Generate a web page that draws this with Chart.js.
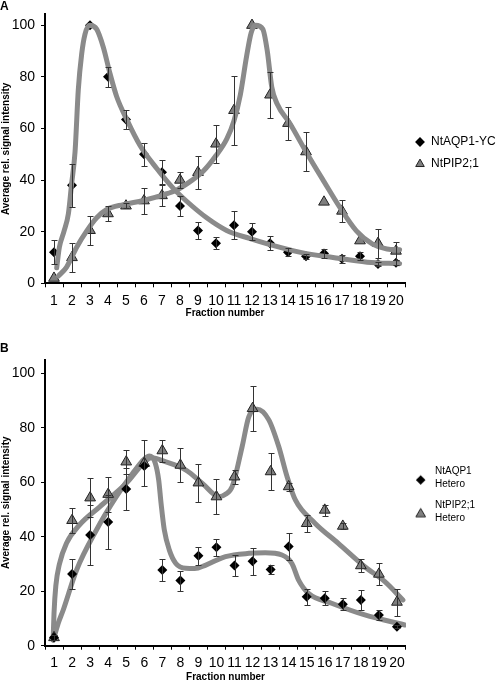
<!DOCTYPE html>
<html>
<head>
<meta charset="utf-8">
<script src="https://cdn.jsdelivr.net/npm/chart.js@4.4.1/dist/chart.umd.min.js"></script>
<style>
html,body{margin:0;padding:0;background:#fff;}
body{width:496px;height:682px;position:relative;overflow:hidden;}
canvas{position:absolute;left:0;}
.panel{position:absolute;left:0;font:bold 12px/12px "Liberation Sans",Arial,sans-serif;color:#000;}
</style>
</head>
<body>
<canvas id="chartA" width="496" height="318" style="top:0px"></canvas>
<canvas id="chartB" width="496" height="352" style="top:330px"></canvas>
<div class="panel" style="top:0px">A</div>
<div class="panel" style="top:342px">B</div>
<script>
// ---------- data ----------
const fractions = [1, 2, 3, 4, 5, 6, 7, 8, 9, 10, 11, 12, 13, 14, 15, 16, 17, 18, 19, 20];
const tickLabels = ['1','2','3','4','5','6','7','8','9','10','11','12','13','14','15','16','17','18','19','20'];
const yTicks = [0, 20, 40, 60, 80, 100];

// Panel A
const aqpA    = [12, 38, 100, 80, 63.5, 50, 43, 30, 20.5, 15.5, 22.5, 20, 15.5, 12, 10.5, 11.5, 9.5, 10.5, 7.5, 8];
const aqpErrA = [4.7, 8.4, 0, 3.8, 3.7, 4.5, 4.7, 4, 3.2, 2.4, 5.4, 3.3, 2.7, 1.5, 1, 1.7, 1.5, 1.6, 0.8, 1];
const pipA    = [2, 10, 20.5, 27, 30, 32, 34, 40, 43, 54, 67, 100, 73, 62, 51, 31.5, 28, 16.5, 15.5, 12.5];
const pipErrA = [0, 5.5, 5.5, 3, 1, 5, 4, 3, 6.3, 7.3, 13.5, 0, 9, 6.5, 7.5, 0, 4.2, 0, 5.6, 3.5];

const curveAqpAx = [1.15, 1.3, 1.55, 1.8, 1.97, 2.17, 2.35, 2.54, 2.72, 2.97, 3.37, 3.74, 4.11, 4.48, 5.04, 5.78, 6.71, 7.63, 8.37, 9.48, 10.59, 11.9, 13.0, 14.7, 16.5, 18.4, 20.2];
const curveAqpAy = [6, 14, 20, 27, 38, 51, 75, 89, 96.5, 100, 98.5, 91.5, 81.3, 72.4, 63.5, 53.4, 44.5, 36.8, 31.8, 25.4, 20.5, 17.3, 15, 12, 10, 8.2, 7.6];
const curvePipAx = [1.24, 1.7, 2.26, 2.82, 3.37, 3.93, 4.85, 5.96, 7.07, 7.82, 8.56, 9.3, 10.0, 10.6, 11.0, 11.35, 11.7, 11.95, 12.2, 12.6, 12.85, 13.1, 13.4, 14.1, 15.0, 16.0, 16.9, 17.8, 18.7, 19.5, 20.2];
const curvePipAy = [2.8, 6.3, 14, 20.3, 25.4, 28.6, 30.5, 32.1, 34.3, 36.2, 39.4, 43.5, 49.5, 56, 63, 73, 88, 97, 100, 98.5, 90, 76, 69.5, 62, 51, 39.4, 29.2, 20.3, 15.2, 13.3, 13];

// Panel B
const aqpB    = [3, 26.3, 40.6, 45.4, 57.5, 66, 27.8, 23.9, 33, 36.1, 29.4, 31, 28, 36.4, 18, 17.4, 15.2, 16.8, 11.3, 7];
const aqpErrB = [1, 5.5, 11, 10, 7.8, 0, 4, 3.7, 3.2, 3.2, 3.8, 5, 1.5, 4.8, 3, 2.6, 2.2, 3.6, 1.8, 0.5];
const pipB    = [3, 46, 54.3, 55.6, 67.5, 67, 71.6, 66.3, 59.8, 54.7, 62, 87.1, 63.9, 58.4, 44.9, 49.8, 43.9, 29.4, 26.3, 16];
const pipErrB = [1, 4.5, 7.1, 6.4, 4.5, 8.5, 4, 6.3, 7, 6.5, 2.5, 8.3, 6.9, 1.5, 3, 2, 1.2, 2.5, 4, 5];

const curveAqpBx = [0.96, 1.23, 1.51, 2.25, 3.35, 4.45, 5.36, 6.0, 6.28, 6.61, 6.8, 6.93, 7.11, 7.39, 7.75, 8.3, 8.8, 9.41, 10.5, 11.8, 12.7, 13.63, 14.18, 14.55, 15.1, 16.38, 18.22, 20.43];
const curveAqpBy = [2.1, 8.2, 13.1, 27.8, 42.5, 54.7, 63.3, 68.5, 69.6, 67, 60.8, 52.3, 42.5, 35.1, 30.2, 28.4, 28.3, 29.6, 32.7, 33.9, 34.1, 33.3, 30.2, 24.1, 19.2, 15.6, 11.3, 7.6];
const curvePipBx = [0.95, 1.0, 1.1, 1.3, 1.69, 2.43, 3.53, 5.0, 6.1, 6.4, 7.2, 8.31, 9.22, 10.14, 10.5, 10.87, 11.42, 11.79, 12.25, 12.9, 13.45, 13.91, 14.37, 15.47, 16.75, 18.22, 19.33, 20.33];
const curvePipBy = [2, 12, 22, 30, 37.6, 44.5, 51, 59.6, 68, 69, 67.5, 64.5, 59.6, 54.7, 55.6, 58.4, 73, 84, 86.8, 82.9, 73.1, 62.1, 53.5, 44.9, 37.6, 29, 23.5, 16.8];

// ---------- helpers ----------
const FONT = "'Liberation Sans', Arial, sans-serif";
const pts = (xs, ys) => xs.map((x, i) => ({x: x, y: ys[i]}));

const errorBarPlugin = {
  id: 'errorBars',
  afterDatasetsDraw(chart) {
    const ctx = chart.ctx, ys = chart.scales.y;
    chart.data.datasets.forEach((ds, i) => {
      if (!ds.errors) return;
      const meta = chart.getDatasetMeta(i);
      ctx.save();
      ctx.strokeStyle = '#333';
      ctx.lineWidth = 1;
      meta.data.forEach((pt, j) => {
        const e = ds.errors[j];
        if (!e) return;
        const v = ds.data[j].y;
        const x = Math.round(pt.x) + 0.5;
        const yt = Math.round(ys.getPixelForValue(v + e)) + 0.5;
        const yb = Math.round(ys.getPixelForValue(v - e)) + 0.5;
        ctx.beginPath();
        ctx.moveTo(x, yt); ctx.lineTo(x, yb);
        ctx.moveTo(x - 3, yt); ctx.lineTo(x + 3, yt);
        ctx.moveTo(x - 3, yb); ctx.lineTo(x + 3, yb);
        ctx.stroke();
      });
      ctx.restore();
    });
  }
};

function scatterSet(label, values, errors, style, order) {
  const diamond = style === 'diamond';
  return {
    type: 'scatter', label: label, inLegend: true, order: order,
    data: pts(fractions, values), errors: errors,
    xAxisID: 'xv', yAxisID: 'y', showLine: false,
    pointStyle: diamond ? 'rectRot' : 'triangle',
    pointRadius: diamond ? 5 : 6.2,
    pointHoverRadius: diamond ? 5 : 6.2,
    backgroundColor: diamond ? '#000000' : '#7f7f7f',
    borderColor: diamond ? '#000000' : '#222222',
    borderWidth: diamond ? 0 : 1
  };
}
function curveSet(xs, ys, order) {
  return {
    type: 'line', label: 'fit', inLegend: false, order: order,
    data: pts(xs, ys), xAxisID: 'xv', yAxisID: 'y',
    borderColor: '#8a8a8a', borderWidth: 5, pointRadius: 0, pointHoverRadius: 0,
    fill: false, cubicInterpolationMode: 'monotone', borderCapStyle: 'round', borderJoinStyle: 'round'
  };
}

function makeScales(yMax, xAxisHeight) {
  return {
    x: {
      type: 'category', labels: tickLabels, offset: true, position: 'bottom',
      grid: {display: true, drawOnChartArea: false, drawTicks: true, tickLength: 4, offset: true, color: '#000', lineWidth: 1},
      border: {display: true, color: '#000', width: 2},
      ticks: {autoSkip: false, maxRotation: 0, minRotation: 0, padding: 5, color: '#000', font: {family: FONT, size: 14}},
      title: {display: true, text: 'Fraction number', color: '#000', font: {family: FONT, size: 10, weight: 'bold', lineHeight: 1}, padding: {top: 0, bottom: 0}},
      afterFit: s => { s.height = xAxisHeight; }
    },
    xv: {type: 'linear', display: false, min: 0.5, max: 20.5},
    y: {
      type: 'linear', min: 0, max: yMax, position: 'left',
      afterBuildTicks: a => { a.ticks = yTicks.map(v => ({value: v})); },
      grid: {display: true, drawOnChartArea: false, drawTicks: true, tickLength: 4, color: '#000', lineWidth: 1},
      border: {display: true, color: '#000', width: 2},
      ticks: {padding: 6, color: '#000', font: {family: FONT, size: 14}},
      title: {display: true, text: 'Average rel. signal intensity', color: '#000', font: {family: FONT, size: 10, weight: 'bold', lineHeight: 1}, padding: {top: 1, bottom: 0}},
      afterFit: s => { s.width = 45; }
    }
  };
}

function makeIcon(style, radius, dx, dy) {
  const c = document.createElement('canvas');
  c.width = 20; c.height = 34;
  const g = c.getContext('2d');
  g.fillStyle = style === 'rectRot' ? '#000000' : '#7f7f7f';
  g.strokeStyle = '#222222';
  Chart.helpers.drawPoint(g, {pointStyle: style, radius: radius, borderWidth: style === 'rectRot' ? 0 : 1}, 10 + dx, 17 + dy);
  return c;
}

// ---------- chart A ----------
new Chart(document.getElementById('chartA'), {
  type: 'scatter',
  data: {
    datasets: [
      scatterSet('NtAQP1-YC', aqpA, aqpErrA, 'diamond', 1),
      scatterSet('NtPIP2;1', pipA, pipErrA, 'triangle', 1),
      curveSet(curveAqpAx, curveAqpAy, 0),
      curveSet(curvePipAx, curvePipAy, 0)
    ]
  },
  options: {
    responsive: false, animation: false, devicePixelRatio: 1,
    layout: {padding: {top: 10, right: 0, bottom: 0, left: 0}},
    plugins: {
      tooltip: {enabled: false},
      legend: {
        position: 'right', fullSize: false, maxWidth: 91,
        title: {display: true, text: '', padding: 0, font: {size: 7, lineHeight: 1.2}},
        labels: {
          usePointStyle: true, boxWidth: 10, boxHeight: 7, padding: 10, color: '#000',
          font: {family: FONT, size: 12},
          filter: (item, data) => data.datasets[item.datasetIndex].inLegend
        }
      }
    },
    scales: makeScales(104.2, 318 - 283.3)
  },
  plugins: [errorBarPlugin]
});

// ---------- chart B ----------
const iconsB = {0: makeIcon('rectRot', 4.8, -1.3, 8.3), 1: makeIcon('triangle', 5.6, -1.3, 8.3)};
new Chart(document.getElementById('chartB'), {
  type: 'scatter',
  data: {
    datasets: [
      scatterSet(['NtAQP1', 'Hetero'], aqpB, aqpErrB, 'diamond', 0),
      scatterSet(['NtPIP2;1', 'Hetero'], pipB, pipErrB, 'triangle', 0),
      curveSet(curveAqpBx, curveAqpBy, 1),
      curveSet(curvePipBx, curvePipBy, 1)
    ]
  },
  options: {
    responsive: false, animation: false, devicePixelRatio: 1,
    layout: {padding: {top: 29.7, right: 11, bottom: 0, left: 0}},
    plugins: {
      tooltip: {enabled: false},
      legend: {
        position: 'right', fullSize: false,
        title: {display: true, text: '', font: {size: 1, lineHeight: 1}, padding: {top: -13, bottom: 0}},
        labels: {
          usePointStyle: true, pointStyleWidth: 16, padding: 8, color: '#000',
          font: {family: FONT, size: 10, lineHeight: 1.3},
          generateLabels: chart => Chart.defaults.plugins.legend.labels.generateLabels(chart)
            .filter(it => chart.data.datasets[it.datasetIndex].inLegend)
            .map(it => { it.pointStyle = iconsB[it.datasetIndex]; return it; })
        }
      }
    },
    scales: makeScales(105, 352 - 315.7)
  },
  plugins: [errorBarPlugin]
});
</script>
</body>
</html>
